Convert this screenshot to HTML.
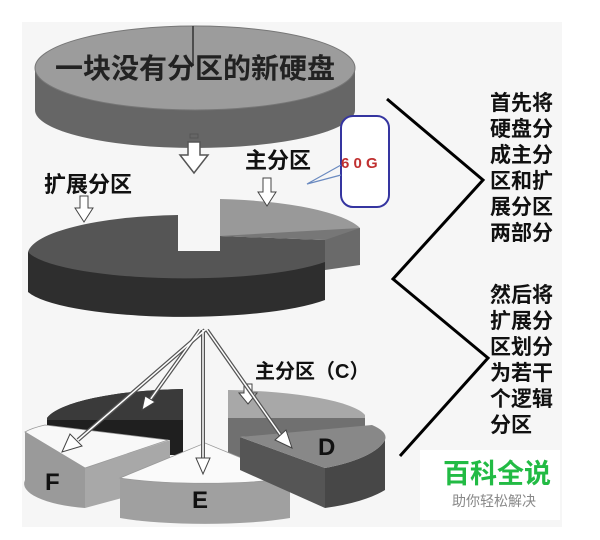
<!DOCTYPE html>
<html><head><meta charset="utf-8"><style>
body{margin:0;background:#fff;}
svg{display:block;}
text{font-family:"Liberation Sans","Noto Sans CJK SC",sans-serif;}
</style></head><body>
<svg width="600" height="540" viewBox="0 0 600 540">
<rect x="22" y="22" width="540" height="505" fill="#f6f6f6"/>
<!-- top disk -->
<path d="M35,68 L35,110 A160,38 0 0 0 355,110 L355,68 Z" fill="#666"/>
<ellipse cx="195" cy="68" rx="160" ry="42" fill="#9c9c9c" stroke="#777" stroke-width="1"/>
<line x1="193" y1="26" x2="193" y2="66" stroke="#333" stroke-width="1.5"/>
<text x="195" y="78" font-size="28" font-weight="bold" text-anchor="middle" fill="#222">一块没有分区的新硬盘</text>
<!-- down arrow -->
<rect x="190" y="134" width="8" height="4" fill="none" stroke="#555"/>
<path d="M188,142 L200,142 L200,155 L208,155 L194,173 L180,155 L188,155 Z" fill="#fff" stroke="#555" stroke-width="1.5"/>
<!-- middle disk -->
<path d="M28,252 L28,292 A160,32 0 0 0 325,300 L325,252 Z" fill="#2e2e2e"/>
<path d="M28,252 A160,40 0 0 1 178,215 L178,251 L220,251 L220,236 L325,240 L325,262 A160,32 0 0 1 28,252 Z" fill="#555"/>
<!-- primary piece -->
<path d="M220,199 L220,236 L325,240 L325,258 L360,265 L360,228 A160,38 0 0 0 220,199 Z" fill="#999"/>
<path d="M220,236 L360,228 L360,265 L325,258 L325,240 Z" fill="#777"/>
<path d="M325,240 L360,228 L360,265 L325,270 Z" fill="#6a6a6a"/>
<!-- labels middle -->
<text x="44" y="192" font-size="22" font-weight="bold" fill="#111">扩展分区</text>
<text x="245" y="168" font-size="22" font-weight="bold" fill="#111">主分区</text>
<path d="M80,196 L88,196 L88,208 L93,208 L84,222 L75,208 L80,208 Z" fill="#fff" stroke="#444"/>
<path d="M263,178 L271,178 L271,192 L276,192 L267,206 L258,192 L263,192 Z" fill="#fff" stroke="#444"/>
<!-- 60G callout -->
<rect x="341" y="116" width="48" height="91" rx="12" fill="#fff" stroke="#3535a0" stroke-width="2"/>
<path d="M341,165 L307,184 L341,175" fill="none" stroke="#6a8ac0" stroke-width="1.2"/>
<text x="341" y="168" font-size="15" font-weight="bold" fill="#c03030" font-family="Liberation Serif,serif">6 0 G</text>
<!-- zigzag -->
<polyline points="387,99 483,180 393,279 488,358 400,456" fill="none" stroke="#000" stroke-width="3"/>
<g font-size="21" font-weight="bold" fill="#111">
<text x="490" y="110">首先将</text><text x="490" y="136">硬盘分</text><text x="490" y="162">成主分</text>
<text x="490" y="188">区和扩</text><text x="490" y="214">展分区</text><text x="490" y="240">两部分</text>
<text x="490" y="302">然后将</text><text x="490" y="328">扩展分</text><text x="490" y="354">区划分</text>
<text x="490" y="380">为若干</text><text x="490" y="406">个逻辑</text><text x="490" y="432">分区</text>
</g>
<!-- bottom slices -->
<path d="M47,418 A150,35 0 0 1 183,389 L183,455 L170,455 L170,440 L47,430 Z" fill="#1f1f1f"/>
<path d="M47,418 A150,35 0 0 1 183,389 L183,420 L47,420 Z" fill="#3a3a3a"/>
<path d="M228,390 A150,30 0 0 1 365,415 L365,430 L228,430 Z" fill="#a8a8a8"/>
<path d="M228,418 L365,418 L365,430 L240,437 L240,470 L228,470 Z" fill="#707070"/>
<!-- F -->
<path d="M25,432 L25,480 A80,25 0 0 0 85,508 L85,468 Z" fill="#9a9a9a"/>
<path d="M85,468 L170,440 L170,485 L85,508 Z" fill="#a8a8a8"/>
<path d="M25,432 A90,20 0 0 1 45,425 L168,440 L85,468 Z" fill="#f8f8f8" stroke="#999" stroke-width="0.8"/>
<text x="45" y="490" font-size="24" font-weight="bold" fill="#111">F</text>
<!-- E -->
<path d="M120,478 L120,518 A120,20 0 0 0 290,518 L290,478 Z" fill="#a0a0a0"/>
<path d="M120,478 L205,443 L290,478 A120,18 0 0 1 120,478 Z" fill="#fafafa" stroke="#999" stroke-width="0.8"/>
<text x="192" y="508" font-size="24" font-weight="bold" fill="#111">E</text>
<!-- D -->
<path d="M240,437 L325,468 L325,508 L240,470 Z" fill="#555"/>
<path d="M325,468 A120,40 0 0 0 385,440 L385,490 A120,40 0 0 1 325,508 Z" fill="#474747"/>
<path d="M240,437 L372,425 A100,25 0 0 1 385,440 A120,40 0 0 1 325,468 Z" fill="#888"/>
<text x="318" y="455" font-size="24" font-weight="bold" fill="#111">D</text>
<!-- 主分区(C) -->
<text x="255" y="378" font-size="20" font-weight="bold" fill="#111">主分区（C）</text>
<path d="M244,384 L252,384 L252,393 L257,393 L248,404 L239,393 L244,393 Z" fill="#fff" stroke="#444"/>
<!-- arrows -->
<g stroke="#555" stroke-width="4" fill="none">
<line x1="205" y1="330" x2="78" y2="440"/><line x1="200" y1="330" x2="150" y2="400"/>
<line x1="203" y1="330" x2="203" y2="465"/><line x1="207" y1="330" x2="282" y2="437"/>
</g>
<g stroke="#fff" stroke-width="1.5" fill="none">
<line x1="205" y1="330" x2="78" y2="440"/><line x1="200" y1="330" x2="150" y2="400"/>
<line x1="203" y1="330" x2="203" y2="465"/><line x1="207" y1="330" x2="282" y2="437"/>
</g>
<path d="M62,452 L70,434 L82,446 Z" fill="#fff" stroke="#444"/>
<path d="M142,410 L145,396 L155,402 Z" fill="#fff" stroke="#444"/>
<path d="M196,458 L210,458 L203,474 Z" fill="#fff" stroke="#444"/>
<path d="M292,448 L275,440 L286,430 Z" fill="#fff" stroke="#444"/>
<!-- watermark -->
<rect x="420" y="450" width="140" height="70" fill="#fff"/>
<text x="443" y="483" font-size="27" font-weight="bold" fill="#22bb44">百科全说</text>
<text x="452" y="506" font-size="14" fill="#888">助你轻松解决</text>
</svg>
</body></html>
